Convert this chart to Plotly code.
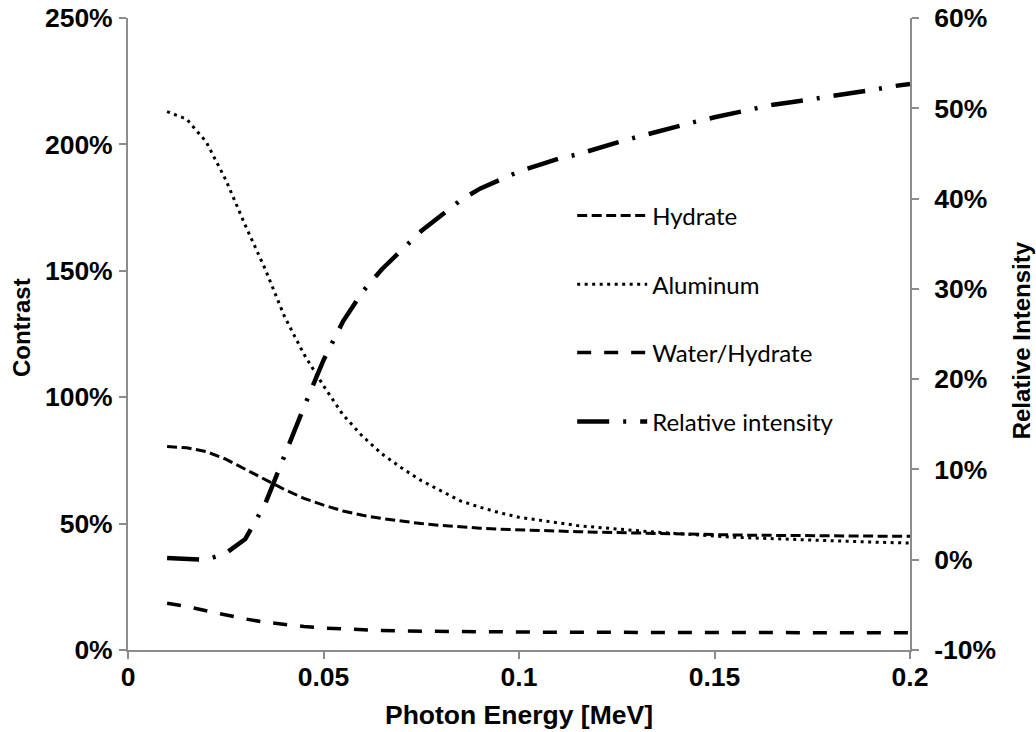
import plotly.graph_objects as go

energy = [0.010, 0.015, 0.020, 0.025, 0.030, 0.035, 0.040, 0.045, 0.050, 0.055,
          0.060, 0.065, 0.070, 0.075, 0.080, 0.085, 0.090, 0.095, 0.100, 0.105,
          0.110, 0.115, 0.120, 0.125, 0.130, 0.135, 0.140, 0.145, 0.150, 0.155,
          0.160, 0.165, 0.170, 0.175, 0.180, 0.185, 0.190, 0.195, 0.200]

hydrate = [80.5, 80.0, 78.5, 75.5, 71.5, 67.5, 63.5, 60.0, 57.3, 55.0,
           53.3, 52.0, 51.0, 50.0, 49.3, 48.7, 48.2, 47.8, 47.5, 47.2,
           47.0, 46.8, 46.6, 46.4, 46.2, 46.0, 45.9, 45.8, 45.6, 45.5,
           45.4, 45.3, 45.3, 45.2, 45.2, 45.1, 45.1, 45.0, 45.0]

aluminum = [213.0, 210.0, 201.0, 186.0, 168.0, 151.0, 132.0, 117.0, 104.5, 93.0,
            84.5, 77.5, 72.0, 67.0, 63.0, 59.0, 56.5, 54.3, 52.5, 51.3,
            50.2, 49.2, 48.5, 47.8, 47.2, 46.6, 46.1, 45.6, 44.9, 44.6,
            44.3, 44.0, 43.7, 43.4, 43.1, 42.9, 42.7, 42.5, 42.3]

water_hydrate = [18.5, 17.2, 15.5, 13.8, 12.3, 11.0, 10.0, 9.3, 8.7, 8.3,
                 8.0, 7.7, 7.5, 7.4, 7.3, 7.2, 7.1, 7.1, 7.0, 7.0,
                 7.0, 7.0, 7.0, 7.0, 6.9, 6.9, 6.9, 6.9, 6.9, 6.9,
                 6.9, 6.9, 6.8, 6.8, 6.8, 6.8, 6.8, 6.8, 6.8]

rel_intensity = [0.2, 0.1, 0.0, 0.7, 2.3, 6.1, 11.6, 16.9, 22.1, 26.4,
                 29.7, 32.2, 34.3, 36.4, 38.1, 39.8, 41.1, 42.1, 43.0, 43.7,
                 44.4, 44.9, 45.6, 46.2, 46.8, 47.4, 47.9, 48.5, 49.0, 49.5,
                 50.0, 50.4, 50.7, 51.0, 51.3, 51.7, 52.0, 52.4, 52.7]

x_ticks = [0, 0.05, 0.1, 0.15, 0.2]
x_labels = ["0", "0.05", "0.1", "0.15", "0.2"]
y1_ticks = [0, 50, 100, 150, 200, 250]
y1_labels = ["0%", "50%", "100%", "150%", "200%", "250%"]
y2_ticks = [-10, 0, 10, 20, 30, 40, 50, 60]
y2_labels = ["-10%", "0%", "10%", "20%", "30%", "40%", "50%", "60%"]

fig = go.Figure()
fig.add_trace(go.Scatter(x=energy, y=hydrate, name="Hydrate", mode="lines",
                         legend="legend",
                         line=dict(color="black", width=3, dash="10px,4.5px")))
fig.add_trace(go.Scatter(x=energy, y=aluminum, name="Aluminum", mode="lines",
                         legend="legend2",
                         line=dict(color="black", width=3, dash="3px,4.5px")))
fig.add_trace(go.Scatter(x=energy, y=water_hydrate, name="Water/Hydrate", mode="lines",
                         legend="legend3",
                         line=dict(color="black", width=3.5, dash="14px,13px")))
fig.add_trace(go.Scatter(x=energy, y=rel_intensity, name="Relative intensity", mode="lines",
                         legend="legend4", yaxis="y2",
                         line=dict(color="black", width=4.5, dash="32px,14px,3px,14px")))

tickfont = dict(family="Liberation Sans", size=26.5, color="black", weight="bold")
axcol = "#8c8c8c"
legfont = dict(family="Lato", size=24, color="black")


def leg(y):
    return dict(x=0.568, y=y, xanchor="left", yanchor="middle", font=legfont,
                bgcolor="rgba(0,0,0,0)", itemwidth=70)


def title_ann(text, x, y, size, angle):
    return dict(text=text, x=x, y=y, xref="paper", yref="paper", showarrow=False,
                xanchor="center", yanchor="middle", textangle=angle,
                font=dict(family="Liberation Sans", size=size, color="black", weight="bold"))


axis_common = dict(showgrid=False, zeroline=False, showline=True, linecolor=axcol, linewidth=2,
                   ticks="outside", ticklen=7, tickcolor=axcol, tickwidth=2, tickfont=tickfont,
                   automargin=False, ticklabeloverflow="allow")

fig.update_layout(
    width=1036, height=732,
    margin=dict(l=128, r=126, t=18, b=82, autoexpand=False),
    paper_bgcolor="white", plot_bgcolor="white",
    showlegend=True,
    legend=leg(0.687), legend2=leg(0.578), legend3=leg(0.470), legend4=leg(0.361),
    xaxis=dict(range=[0, 0.2], tickvals=x_ticks, ticktext=x_labels,
               ticklabelstandoff=-5, **axis_common),
    yaxis=dict(range=[0, 250], tickvals=y1_ticks, ticktext=y1_labels,
               ticklabelstandoff=1, **axis_common),
    yaxis2=dict(range=[-10, 60], tickvals=y2_ticks, ticktext=y2_labels, overlaying="y", side="right",
                ticklabelstandoff=10, **axis_common),
    annotations=[
        title_ann("Photon Energy [MeV]", 0.5, -0.1028, 26.5, 0),
        title_ann("Contrast", -0.1355, 0.5095, 24, -90),
        title_ann("Relative Intensity", 1.142, 0.49, 24, -90),
    ],
)

fig.write_html("out.html", config={"displayModeBar": False},
               post_script="document.body.style.margin='0px';document.body.style.overflow='hidden';")
